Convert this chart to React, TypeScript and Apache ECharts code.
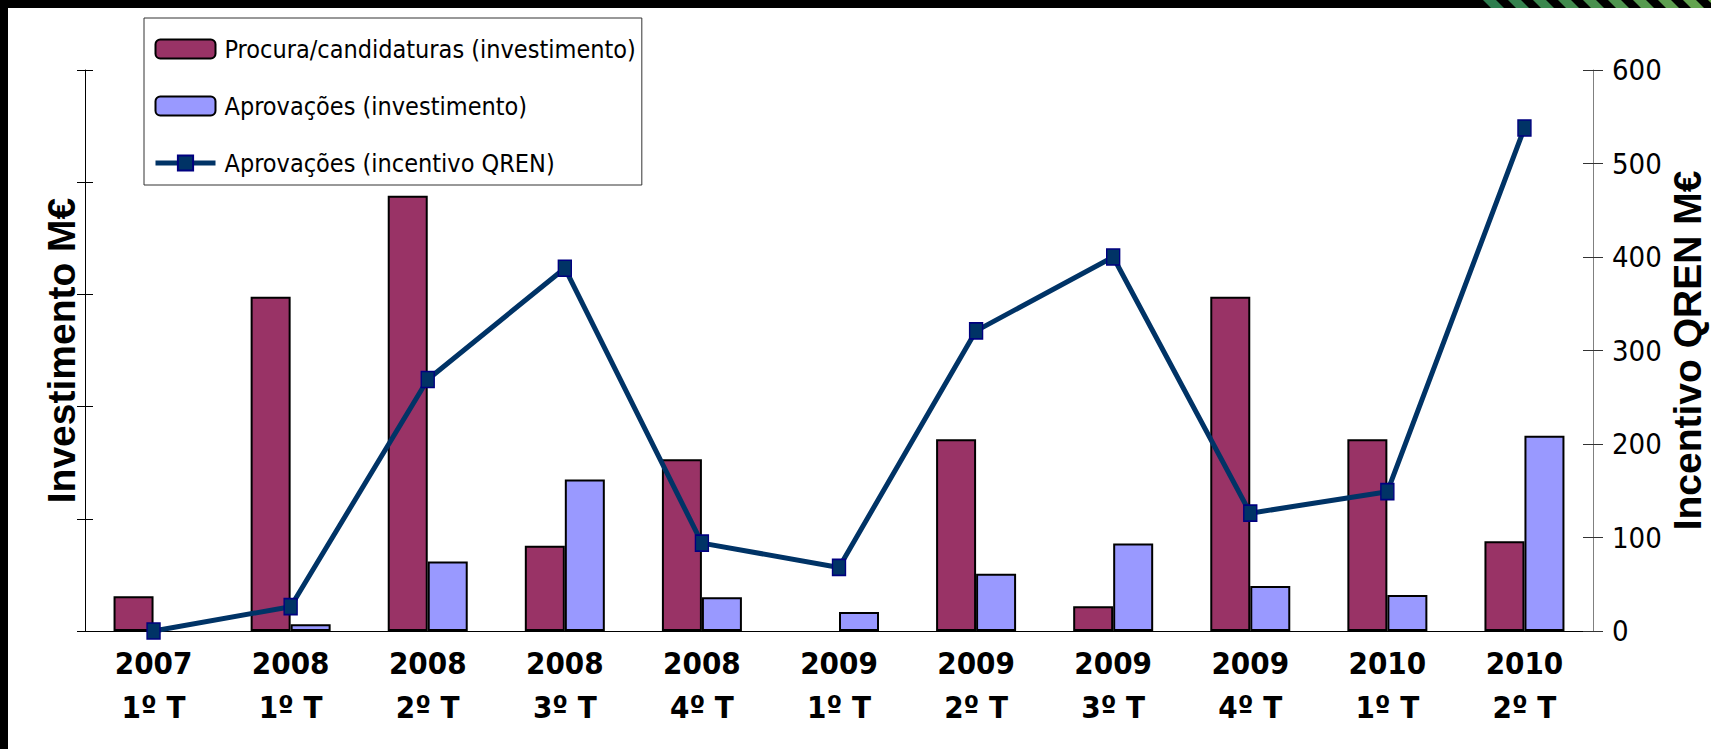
import React, { useEffect, useRef } from "react";
import * as echarts from "echarts";

const categories = [
  "2007\n1º T",
  "2008\n1º T",
  "2008\n2º T",
  "2008\n3º T",
  "2008\n4º T",
  "2009\n1º T",
  "2009\n2º T",
  "2009\n3º T",
  "2009\n4º T",
  "2010\n1º T",
  "2010\n2º T",
];
const procuraInvestimento = [31, 298, 388, 76, 153, null, 171, 22, 298, 171, 80];
const aprovacoesInvestimento = [null, 6, 62, 135, 30, 17, 51, 78, 40, 32, 174];
const aprovacoesIncentivo = [0, 26, 269, 388, 94, 68, 321, 400, 126, 149, 538];

const seriesNames = [
  "Procura/candidaturas (investimento)",
  "Aprovações (investimento)",
  "Aprovações (incentivo QREN)",
];
const leftAxisName = "Investimento M€";
const rightAxisName = "Incentivo QREN M€";
const leftAxisMax = 500;
const rightAxisMax = 600;
const axisStep = 100;

const NARROW = "'DejaVu Sans Condensed', 'Liberation Sans Narrow', sans-serif";
const SANS = "'Liberation Sans', Arial, sans-serif";

export default function App() {
  const ref = useRef<HTMLDivElement>(null);
  useEffect(() => {
    document.body.style.margin = "0";
    if (!ref.current) return;
    const chart = echarts.init(ref.current, undefined, { renderer: "svg" });

    const stripes: any[] = [];
    for (let i = 0; i < 10; i++) {
      const x = 1483 + i * 25;
      const t = i / 9;
      const r = Math.round(0x2e + (0x6a - 0x2e) * t);
      const g = Math.round(0x7d + (0xa8 - 0x7d) * t);
      const b = Math.round(0x4e + (0x4f - 0x4e) * t);
      stripes.push({
        type: "polygon",
        shape: { points: [[x, 0], [x + 13, 0], [x + 21, 8], [x + 8, 8]] },
        style: { fill: `rgb(${r},${g},${b})` },
        z: 101,
      });
    }

    const valueAxisBase = {
      type: "value",
      splitLine: { show: false },
      axisLabel: { show: false },
    };

    chart.setOption({
      animation: false,
      backgroundColor: "#ffffff",
      textStyle: { fontFamily: SANS },
      graphic: [
        { type: "rect", shape: { x: 0, y: 0, width: 1711, height: 8 }, style: { fill: "#000" }, z: 100 },
        { type: "rect", shape: { x: 0, y: 0, width: 8, height: 749 }, style: { fill: "#000" }, z: 100 },
        ...stripes,
      ],
      legend: {
        orient: "vertical",
        left: 144,
        top: 18,
        padding: [14, 6, 5, 9],
        itemGap: 23,
        itemWidth: 60,
        itemHeight: 19,
        borderColor: "#333",
        borderWidth: 1,
        backgroundColor: "#fff",
        textStyle: { fontFamily: NARROW, fontSize: 25, lineHeight: 34, color: "#000", padding: [0, 0, 0, 4] },
        data: [
          { name: seriesNames[0] },
          { name: seriesNames[1] },
          { name: seriesNames[2], lineStyle: { width: 5, color: "#003366" } },
        ],
      },
      grid: { left: 85, right: 118, top: 70, bottom: 118, containLabel: false, outerBoundsMode: "none" },
      xAxis: [
        {
          type: "category",
          data: categories,
          axisLine: { lineStyle: { color: "#000", width: 1 } },
          axisTick: { length: 10, lineStyle: { color: "#000" } },
          axisLabel: {
            interval: 0,
            fontFamily: NARROW,
            fontWeight: "bold",
            fontSize: 31,
            lineHeight: 44,
            color: "#000",
            margin: 10,
          },
        },
        {
          type: "category",
          data: categories,
          position: "bottom",
          axisLine: { show: false },
          axisTick: { inside: true, length: 10, lineStyle: { color: "#000" } },
          axisLabel: { show: false },
        },
      ],
      yAxis: [
        {
          ...valueAxisBase,
          min: 0,
          max: leftAxisMax,
          interval: axisStep,
          position: "left",
          axisLine: { show: true, lineStyle: { color: "#000" } },
          axisTick: { show: true, length: 8, lineStyle: { color: "#000" } },
          name: leftAxisName,
          nameLocation: "middle",
          nameRotate: 90,
          nameGap: 4,
          nameMoveOverlap: false,
          nameTextStyle: { fontFamily: SANS, fontSize: 39, fontWeight: "bold", color: "#000" },
        },
        {
          ...valueAxisBase,
          min: 0,
          max: rightAxisMax,
          interval: axisStep,
          position: "right",
          axisLine: { show: true, lineStyle: { color: "#808080" } },
          axisTick: { show: true, length: 10, lineStyle: { color: "#333" } },
          axisLabel: { show: true, fontFamily: NARROW, fontSize: 29, margin: 19, color: "#000" },
          name: rightAxisName,
          nameLocation: "middle",
          nameRotate: 90,
          nameGap: 74,
          nameMoveOverlap: false,
          nameTextStyle: { fontFamily: SANS, fontSize: 39, lineHeight: 40, fontWeight: "bold", color: "#000" },
        },
        {
          ...valueAxisBase,
          min: 0,
          max: leftAxisMax,
          interval: axisStep,
          position: "left",
          axisLine: { show: false },
          axisTick: { show: true, inside: true, length: 8, lineStyle: { color: "#000" } },
        },
        {
          ...valueAxisBase,
          min: 0,
          max: rightAxisMax,
          interval: axisStep,
          position: "right",
          axisLine: { show: false },
          axisTick: { show: true, inside: true, length: 10, lineStyle: { color: "#333" } },
        },
      ],
      series: [
        {
          name: seriesNames[0],
          type: "bar",
          xAxisIndex: 0,
          yAxisIndex: 0,
          data: procuraInvestimento,
          barWidth: 40,
          barGap: "0%",
          itemStyle: { color: "#993366", borderColor: "#000", borderWidth: 2 },
        },
        {
          name: seriesNames[1],
          type: "bar",
          xAxisIndex: 0,
          yAxisIndex: 0,
          data: aprovacoesInvestimento,
          barWidth: 40,
          barGap: "0%",
          itemStyle: { color: "#9999FF", borderColor: "#000", borderWidth: 2 },
        },
        {
          name: seriesNames[2],
          type: "line",
          xAxisIndex: 0,
          yAxisIndex: 1,
          data: aprovacoesIncentivo,
          symbol: "rect",
          symbolSize: [13, 16],
          lineStyle: { color: "#003366", width: 5 },
          itemStyle: { color: "#003366", borderColor: "#000080", borderWidth: 1.5 },
          z: 5,
        },
      ],
    });
    return () => chart.dispose();
  }, []);
  return <div ref={ref} style={{ width: 1711, height: 749, background: "#fff" }} />;
}
